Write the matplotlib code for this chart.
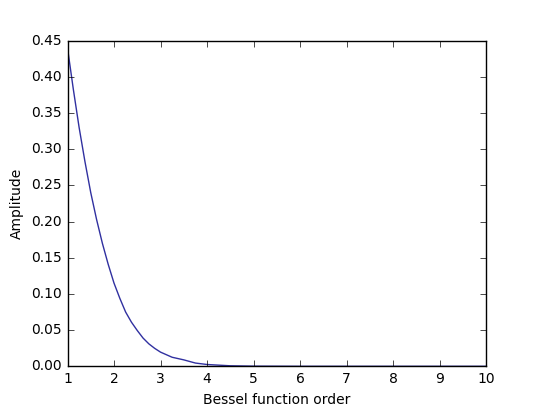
import matplotlib
matplotlib.use("Agg")
import matplotlib.pyplot as plt

plt.style.use('classic')

order = [1.0, 1.125, 1.25, 1.375, 1.5, 1.625, 1.75, 1.875, 2.0, 2.125, 2.25, 2.375, 2.5,
         2.625, 2.75, 2.875, 3.0, 3.25, 3.5, 3.75, 4.0, 4.5, 5.0, 6.0, 7.0, 8.0, 9.0, 10.0]
amplitude = [0.440, 0.383, 0.330, 0.283, 0.240, 0.203, 0.170, 0.141, 0.115, 0.094, 0.075,
             0.061, 0.0495, 0.039, 0.031, 0.0248, 0.0196, 0.0125, 0.0089, 0.0045, 0.0025,
             0.0007, 0.0002, 0.0, 0.0, 0.0, 0.0, 0.0]

fig = plt.figure(figsize=(5.4, 4.07), dpi=100)
ax = fig.add_subplot(111)
ax.plot(order, amplitude, color='#3030a0', lw=1)
ax.set_xlim(1, 10)
ax.set_ylim(0, 0.45)
ax.set_xlabel('Bessel function order', fontsize=10)
ax.set_ylabel('Amplitude', fontsize=10)
ax.tick_params(labelsize=10)
fig.savefig('out.png', dpi=100)
